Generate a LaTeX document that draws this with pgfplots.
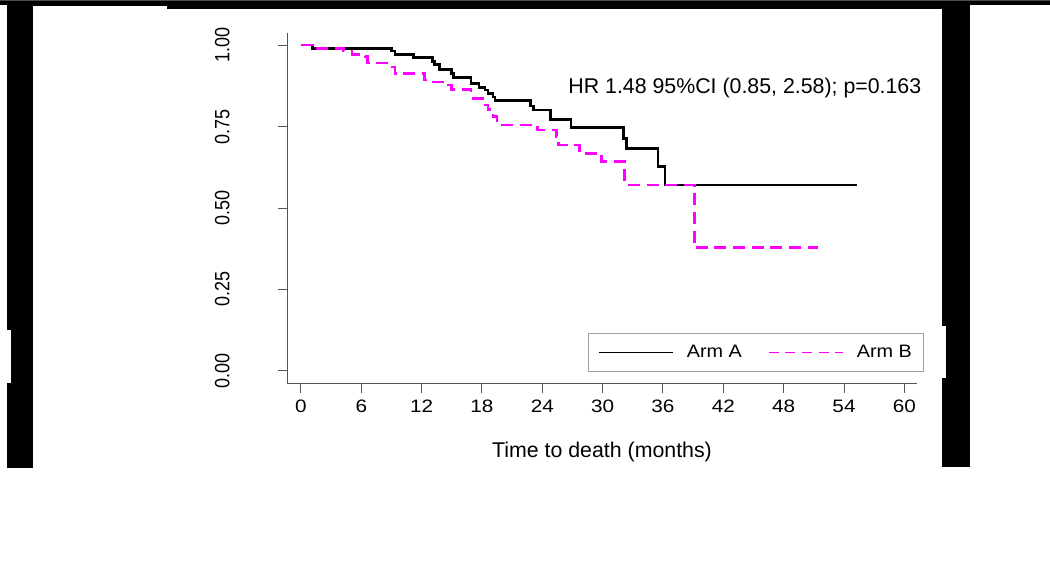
\documentclass[border=0pt]{standalone}
\usepackage{fontspec}
\setmainfont{Liberation Sans}
\usepackage{pgfplots}
\pgfplotsset{compat=1.18}

\definecolor{armB}{RGB}{255,0,255}
\definecolor{axisgray}{RGB}{85,85,85}
\definecolor{legendgray}{RGB}{160,160,160}

% Kaplan-Meier estimates (time in months, survival probability)
\pgfplotstableread{
t      s
0      1.000
1.13   0.990
9.00   0.982
9.35   0.972
11.17  0.961
13.06  0.949
13.30  0.941
13.80  0.925
15.00  0.913
15.20  0.901
16.90  0.883
17.70  0.870
18.30  0.862
18.60  0.852
19.10  0.841
19.30  0.829
22.80  0.813
23.10  0.801
24.80  0.772
26.85  0.748
32.05  0.714
32.40  0.683
35.50  0.627
36.20  0.571
55.30  0.571
}\armA

\pgfplotstableread{
t      s
0      1.000
1.13   0.990
4.20   0.982
5.07   0.972
6.36   0.964
6.60   0.945
8.80   0.933
9.35   0.913
12.30  0.893
12.70  0.887
14.65  0.877
15.00  0.864
16.90  0.836
18.30  0.816
18.60  0.803
19.10  0.780
19.50  0.755
23.50  0.739
25.40  0.719
25.60  0.693
27.70  0.668
29.90  0.642
32.20  0.571
39.10  0.378
51.45  0.378
}\armB

\begin{document}
\begin{tikzpicture}
\path[use as bounding box, fill=white] (0,0) rectangle (787.5pt,429.75pt);
% dark scan edges around the figure (pixel units, y pointing down)
\begin{scope}[x=0.75pt, y=-0.75pt, shift={(0pt,429.75pt)}]
  \fill[black!70] (0,0) rectangle (1050,1.5);
  \fill[black] (0,1.5) rectangle (1050,5);
  \fill[black] (7,5) rectangle (167,6);
  \fill[black] (167,5) rectangle (970,9.5);
  \fill[black] (7,5) rectangle (33,468);
  \fill[white] (7,330) rectangle (11,383);
  \fill[black] (942,5) rectangle (970,467);
  \fill[white] (942,326) rectangle (946,378);
\end{scope}

\begin{axis}[
  at={(215.25pt,141.75pt)}, anchor=south west,
  scale only axis, width=472.5pt, height=263.25pt,
  xmin=-1.39, xmax=61.26, ymin=-0.04, ymax=1.037,
  axis lines*=left,
  axis line style={-, axisgray, line width=0.75pt},
  tick style={axisgray, line width=0.75pt},
  tick align=outside, major tick length=6.5pt,
  xtick={0,6,...,60},
  xticklabels={0,6,12,18,24,30,36,42,48,54,60},
  ytick={0,0.25,0.5,0.75,1},
  yticklabels={0.00,0.25,0.50,0.75,1.00},
  /pgf/number format/assume math mode=true,
  ticklabel style={font=\fontsize{13.5}{16}\selectfont, text=black},
  xticklabel style={xscale=1.15},
  yticklabel style={xscale=1.15, rotate=90, anchor=center},
  yticklabel shift=42pt,
  xticklabel shift=2pt,
  xlabel={Time to death (months)},
  xlabel style={font=\fontsize{16}{19}\selectfont, at={(axis description cs:0.5,-0.2088)}, anchor=base},
  clip=false,
  legend columns=2,
  legend cell align=left,
  legend style={at={(axis description cs:1.0111,0.0342)}, anchor=south east,
    draw=legendgray, line width=0.75pt, fill=white,
    font=\fontsize{13.5}{16}\selectfont,
    inner xsep=6.75pt, inner ysep=6.75pt,
    column sep=8pt,
    /tikz/every even column/.append style={column sep=17.5pt}},
]
\addplot[const plot, black, line width=2pt,
  legend image code/.code={\draw[black, line width=1.2pt] (0pt,0pt) -- (55.5pt,0pt);}]
  table[x=t, y=s] {\armA};
\addlegendentry{\scalebox{1.1}[1]{Arm A}}
\addplot[const plot, armB, line width=2pt, dash pattern=on 9pt off 5pt,
  legend image code/.code={\draw[armB, line width=1.2pt, dash pattern=on 7.5pt off 5pt] (0pt,0pt) -- (55.5pt,0pt);}]
  table[x=t, y=s] {\armB};
\addlegendentry{\scalebox{1.1}[1]{Arm B}}
\node[anchor=base east, font=\fontsize{16}{19}\selectfont] at (axis cs:62.15,0.852)
  {HR 1.48 95\%CI (0.85, 2.58); p=0.163};
\end{axis}
\end{tikzpicture}
\end{document}
